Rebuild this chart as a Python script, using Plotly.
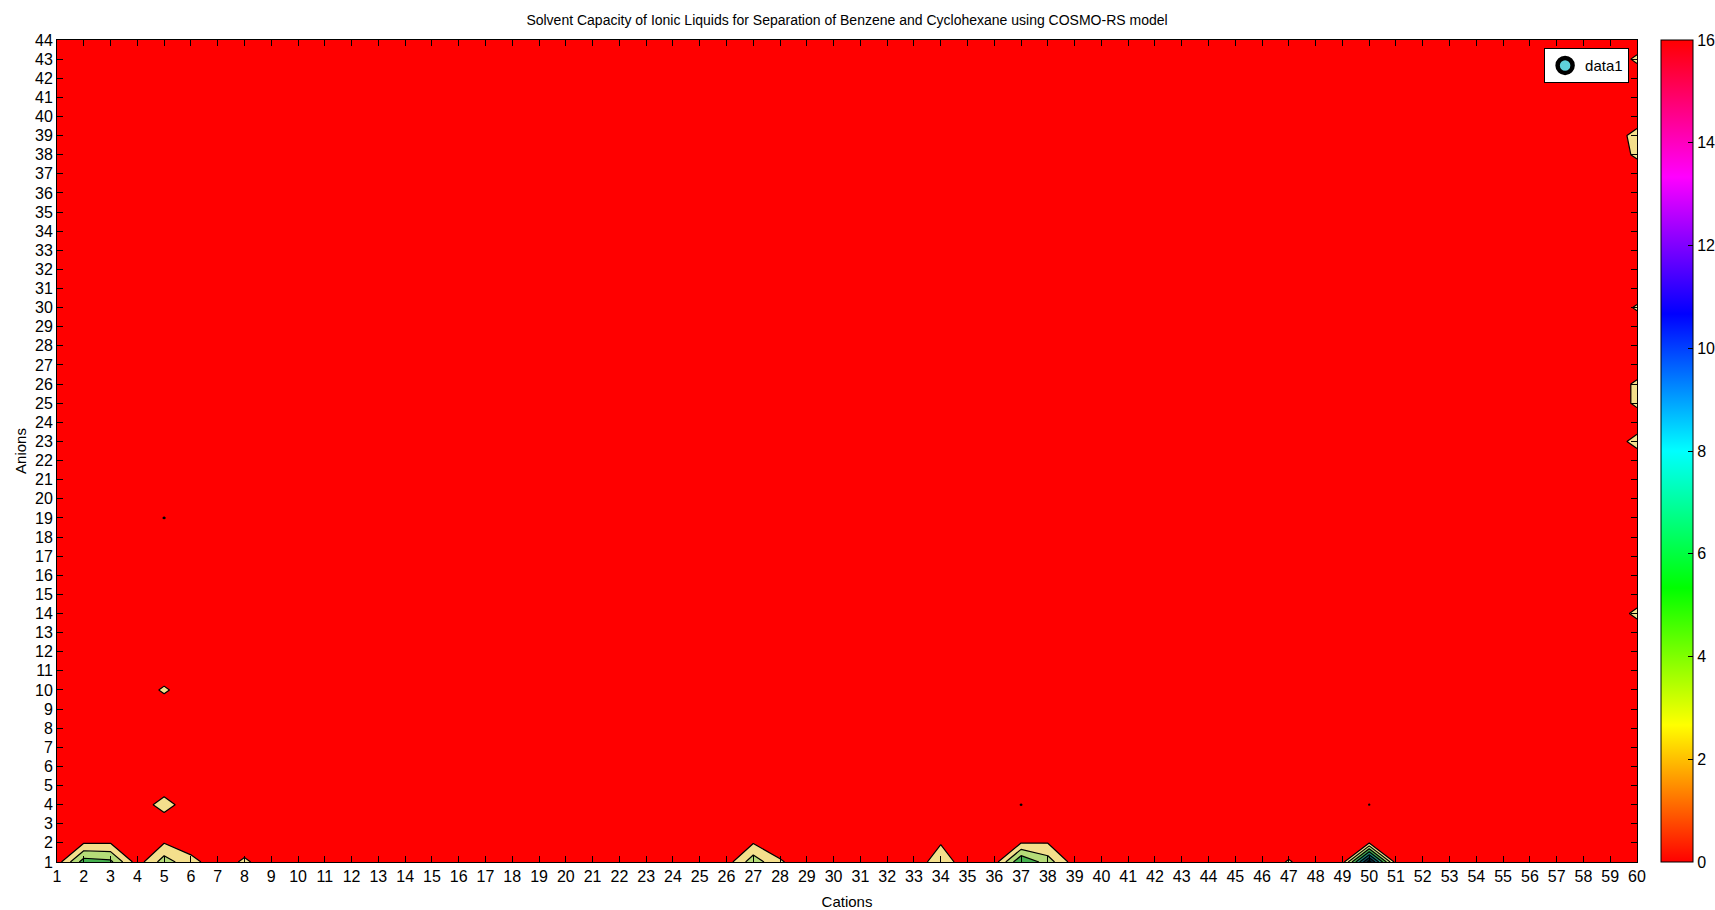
import plotly.graph_objects as go

# ---------------- data ----------------
cations = list(range(1, 61))          # x categories (tick labels 1..60)
anions = list(range(1, 45))           # y categories (tick labels 1..44)

# solvent capacity for anion 1 (cation: value); all others ~0
anion1_vals = {2: 6.0, 3: 5.5, 5: 4.0, 6: 1.6, 8: 1.3, 27: 4.2, 28: 1.2,
               34: 2.0, 37: 7.0, 38: 4.0, 47: 1.15, 50: 14.0}
# anion 2
anion2_vals = {2: 0.9, 3: 0.9, 5: 0.95, 27: 0.9, 34: 0.9, 37: 0.95, 38: 0.95, 50: 0.95}
# cation 60 column (anion: value)
cation60_vals = {14: 1.4, 23: 1.6, 25: 1.3, 26: 1.3, 30: 1.2, 38: 1.3, 39: 1.6, 43: 1.3}
# isolated points (cation, anion, value)
isolated_pts = [(5, 4, 1.7), (5, 10, 1.25), (5, 19, 1.05), (37, 4, 1.04), (50, 4, 1.03)]

colorbar_ticks = [0, 2, 4, 6, 8, 10, 12, 14, 16]

# build matrix z[anion][cation]
z = [[0.0 for _ in cations] for _ in anions]
for c, v in anion1_vals.items():
    z[0][c - 1] = v
for c, v in anion2_vals.items():
    z[1][c - 1] = v
for a, v in cation60_vals.items():
    z[a - 1][59] = v
for c, a, v in isolated_pts:
    z[a - 1][c - 1] = v

# MATLAB-like hsv colormap
hsv = [[0.0, "#ff0000"], [1/6, "#ffff00"], [2/6, "#00ff00"], [3/6, "#00ffff"],
       [4/6, "#0000ff"], [5/6, "#ff00ff"], [1.0, "#ff0000"]]

# band colours used for the filled contours (appearance in the picture)
fill_scale = [[0.0, "#ff0000"], [2/16, "#f4df8c"], [4/16, "#b5dc78"],
              [6/16, "#45b04e"], [8/16, "#1f8f78"], [10/16, "#105a66"],
              [12/16, "#082838"], [14/16, "#000000"], [1.0, "#ff0000"]]

font_fam = "Liberation Sans, Arial, sans-serif"

W, H = 1715, 910
PL, PR, PT, PB = 57, 78, 40, 48   # plot area margins in pixels

fig = go.Figure()
fig.add_trace(go.Contour(
    x=cations, y=anions, z=z,
    colorscale=fill_scale, showscale=False,
    autocontour=False,
    contours=dict(start=1, end=15, size=2, coloring="fill", showlines=True),
    line=dict(color="black", width=1.2, smoothing=0),
    hoverinfo="skip", showlegend=False,
))

# colorbar (continuous hsv 0-16)
fig.add_trace(go.Scatter(
    x=[None], y=[None], mode="markers", showlegend=False, hoverinfo="skip",
    marker=dict(color=[0], cmin=0, cmax=16, colorscale=hsv, showscale=True,
                colorbar=dict(x=(1661 - PL) / (W - PL - PR), xanchor="left", xpad=0,
                              y=0.5, yanchor="middle",
                              len=1, lenmode="fraction", ypad=0, thickness=32,
                              outlinecolor="black", outlinewidth=1,
                              tickvals=colorbar_ticks, ticks="inside", ticklen=5,
                              tickcolor="black",
                              tickfont=dict(family=font_fam, size=16, color="black"))),
))

# legend entry
fig.add_trace(go.Scatter(
    x=[None], y=[None], mode="markers", name="data1",
    marker=dict(symbol="circle", size=15, color="#5fd0dc",
                line=dict(color="black", width=4.5)),
))

fig.update_layout(
    width=W, height=H, autosize=False,
    title=dict(text="Solvent Capacity of Ionic Liquids for Separation of Benzene and Cyclohexane using COSMO-RS model",
               x=(PL + 790) / W, xanchor="center", xref="container",
               y=1 - 20 / H, yanchor="middle", yref="container",
               font=dict(family=font_fam, size=14, color="black")),
    paper_bgcolor="white", plot_bgcolor="#ff0000",
    margin=dict(l=PL, r=PR, t=PT, b=PB, autoexpand=False),
    font=dict(family=font_fam, size=15, color="black"),
    legend=dict(x=0.995, xanchor="right", y=0.99, yanchor="top",
                bgcolor="white", bordercolor="black", borderwidth=1,
                font=dict(family=font_fam, size=15, color="black")),
    xaxis=dict(range=[1, 60], tickvals=cations, ticktext=[str(c) for c in cations],
               ticks="inside", ticklen=6, tickcolor="black", mirror="ticks",
               showline=True, linecolor="black", linewidth=1, showgrid=False, zeroline=False,
               tickfont=dict(family=font_fam, size=16, color="black"),
               title=dict(text="Cations", standoff=14,
                          font=dict(family=font_fam, size=15, color="black")),
               automargin=False),
    yaxis=dict(range=[1, 44], tickvals=anions, ticktext=[str(a) for a in anions],
               ticks="inside", ticklen=6, tickcolor="black", mirror="ticks",
               showline=True, linecolor="black", linewidth=1, showgrid=False, zeroline=False,
               tickfont=dict(family=font_fam, size=16, color="black"),
               title=dict(text="Anions", standoff=4,
                          font=dict(family=font_fam, size=15, color="black")),
               automargin=False),
)

# remove the default page margin so the figure fills the window exactly
fig.write_html("out.html", config={"displayModeBar": False},
               post_script="document.body.style.margin='0';document.body.style.overflow='hidden';")
